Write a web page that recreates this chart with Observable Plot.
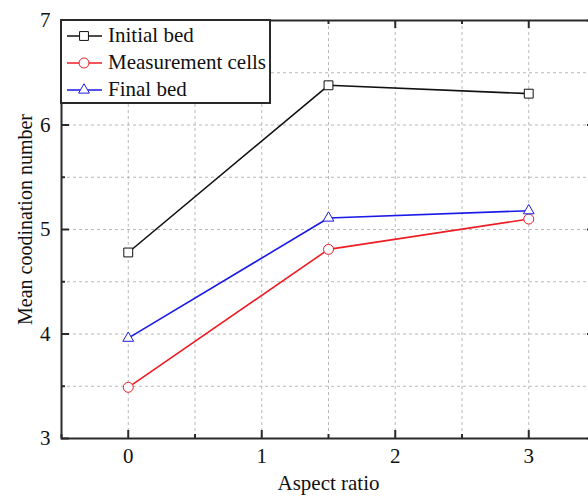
<!DOCTYPE html>
<html>
<head>
<meta charset="utf-8">
<script src="https://cdn.jsdelivr.net/npm/d3@7"></script>
<script src="https://cdn.jsdelivr.net/npm/@observablehq/plot@0.6"></script>
<style>
  html, body { margin: 0; padding: 0; background: white; overflow: hidden; }
  #wrap { position: relative; width: 588px; height: 497px; overflow: hidden; }
  #legend { position: absolute; left: 60px; top: 19px; width: 207px; height: 80px;
    border: 2px solid #2a2a2a; background: white; font-family: "Liberation Serif", serif; font-size: 21px; padding-top: 1px; color: #111; }
  .row { display: flex; align-items: center; height: 27px; }
  .row svg { width: 40px; height: 20px; margin-right: 6px; flex: none; }
</style>
</head>
<body>
<div id="wrap"><div id="legend"></div></div>
<script>
const aspectRatio = [0, 1.5, 3];
const initialBed = [4.78, 6.38, 6.30];
const measurementCells = [3.49, 4.81, 5.10];
const finalBed = [3.96, 5.11, 5.18];

const seriesNames = ["Initial bed", "Measurement cells", "Final bed"];
const seriesColors = ["#111111", "#ee1c24", "#1a1ae6"];
const seriesSymbols = ["square", "circle", "triangle"];
const seriesValues = [initialBed, measurementCells, finalBed];

const xMajorTicks = [0, 1, 2, 3];
const xMinorTicks = [-0.5, 0.5, 1.5, 2.5, 3.5];
const yMajorTicks = [3, 4, 5, 6, 7];
const yMinorTicks = [3.5, 4.5, 5.5, 6.5];
const xGrid = [0, 0.5, 1, 1.5, 2, 2.5, 3];
const yGrid = [3.5, 4, 4.5, 5, 5.5, 6, 6.5];
const xLabel = "Aspect ratio";
const yLabel = "Mean coodination number";

const data = [];
seriesNames.forEach((name, i) => {
  aspectRatio.forEach((a, j) => data.push({series: name, x: a, y: seriesValues[i][j]}));
});

const W = 588, H = 497, mL = 61, mR = -7, mT = 20, mB = 59;
const plotW = W - mL - mR, plotH = H - mT - mB;
const major = 8, minor = 4;
const axisColor = "#2a2a2a";

const chart = Plot.plot({
  width: W, height: H,
  marginLeft: mL, marginRight: mR, marginTop: mT, marginBottom: mB,
  style: {fontFamily: "Liberation Serif, serif", fontSize: "21px", color: "#111", background: "white", overflow: "hidden"},
  x: {domain: [-0.5, 3.5]},
  y: {domain: [3, 7]},
  color: {domain: seriesNames, range: seriesColors},
  marks: [
    Plot.gridX(xGrid, {stroke: "#b8b8b8", strokeOpacity: 1, strokeWidth: 1, strokeDasharray: "3,3"}),
    Plot.gridY(yGrid, {stroke: "#b8b8b8", strokeOpacity: 1, strokeWidth: 1, strokeDasharray: "3,3"}),
    Plot.line(data, {x: "x", y: "y", z: "series", stroke: "series", strokeWidth: 1.6}),
    Plot.dot(data.filter(d => d.series !== "Final bed"), {x: "x", y: "y", symbol: d => seriesSymbols[seriesNames.indexOf(d.series)], stroke: "series", fill: "white", r: 5, strokeWidth: 1}),
    Plot.dot(data.filter(d => d.series === "Final bed"), {x: "x", y: "y", symbol: "triangle", stroke: "series", fill: "white", r: 4, strokeWidth: 1}),
    Plot.frame({stroke: axisColor, strokeWidth: 2}),
    Plot.tickX(xMajorTicks, {x: d => d, insetTop: plotH - major, stroke: axisColor, strokeWidth: 2}),
    Plot.tickX(xMajorTicks, {x: d => d, insetBottom: plotH - major, stroke: axisColor, strokeWidth: 2}),
    Plot.tickX(xMinorTicks, {x: d => d, insetTop: plotH - minor, stroke: axisColor, strokeWidth: 2}),
    Plot.tickX(xMinorTicks, {x: d => d, insetBottom: plotH - minor, stroke: axisColor, strokeWidth: 2}),
    Plot.tickY(yMajorTicks, {y: d => d, insetRight: plotW - major, stroke: axisColor, strokeWidth: 2}),
    Plot.tickY(yMajorTicks, {y: d => d, insetLeft: plotW - major, stroke: axisColor, strokeWidth: 2}),
    Plot.tickY(yMinorTicks, {y: d => d, insetRight: plotW - minor, stroke: axisColor, strokeWidth: 2}),
    Plot.tickY(yMinorTicks, {y: d => d, insetLeft: plotW - minor, stroke: axisColor, strokeWidth: 2}),
    Plot.axisX({ticks: xMajorTicks, tickSize: 0, tickPadding: 10, tickFormat: d => String(d), label: xLabel, labelAnchor: "center", labelArrow: "none", labelOffset: 51, fontSize: 21}),
    Plot.axisY({ticks: yMajorTicks, tickSize: 0, tickPadding: 11, tickFormat: d => String(d), label: null, fontSize: 21}),
    Plot.text([yLabel], {frameAnchor: "left", text: d => d, rotate: -90, dx: -36, dy: -10, fontSize: 20, textAnchor: "middle", lineAnchor: "middle", fill: "#111"})
  ]
});
document.getElementById("wrap").prepend(chart);

const legend = document.getElementById("legend");
seriesNames.forEach((name, i) => {
  const row = document.createElement("div");
  row.className = "row";
  const ns = "http://www.w3.org/2000/svg";
  const svg = document.createElementNS(ns, "svg");
  svg.setAttribute("viewBox", "0 0 40 20");
  const line = document.createElementNS(ns, "line");
  line.setAttribute("x1", 5); line.setAttribute("x2", 40);
  line.setAttribute("y1", 10); line.setAttribute("y2", 10);
  line.setAttribute("stroke", seriesColors[i]); line.setAttribute("stroke-width", 1.6);
  svg.appendChild(line);
  const sym = seriesSymbols[i] === "square" ? d3.symbolSquare : seriesSymbols[i] === "circle" ? d3.symbolCircle : d3.symbolTriangle;
  const size = seriesSymbols[i] === "triangle" ? Math.PI * 16 : Math.PI * 25;
  const path = document.createElementNS(ns, "path");
  path.setAttribute("d", d3.symbol(sym, size)());
  path.setAttribute("transform", "translate(22,10)");
  path.setAttribute("fill", "white"); path.setAttribute("stroke", seriesColors[i]);
  svg.appendChild(path);
  row.appendChild(svg);
  const span = document.createElement("span");
  span.textContent = name;
  row.appendChild(span);
  legend.appendChild(row);
});
</script>
</body>
</html>
